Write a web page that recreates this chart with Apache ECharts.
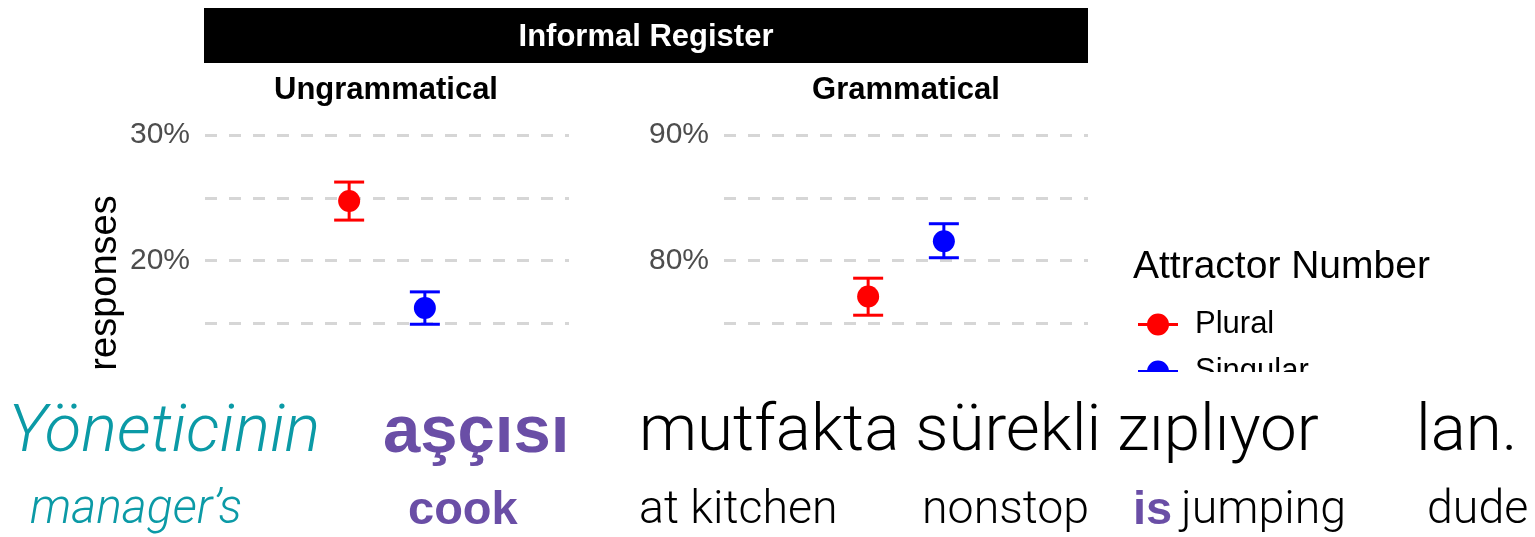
<!DOCTYPE html>
<html>
<head>
<meta charset="utf-8">
<script src="https://cdn.jsdelivr.net/npm/echarts@6/dist/echarts.min.js"></script>
<style>
html, body { margin: 0; padding: 0; background: #fff; }
#chart { width: 1535px; height: 537px; }
</style>
</head>
<body>
<div id="chart"></div>
<script>
// data (percent of responses, mean with lower/upper CI)
var attractors = ['Plural', 'Singular'];
var conditions = ['Ungrammatical', 'Grammatical'];
var ungramMean = [24.74, 16.22];
var ungramLower = [23.22, 14.92];
var ungramUpper = [26.25, 17.50];
var gramMean = [77.13, 81.54];
var gramLower = [75.64, 80.22];
var gramUpper = [78.59, 82.93];
var ungramRange = [10, 30];
var gramRange = [70, 90];

var colors = ['#ff0000', '#0000ff'];
var FONT = "'Liberation Sans', Arial, Helvetica, sans-serif";
var LIGHT = "Roboto, 'Liberation Sans', Arial, sans-serif";
var TEAL = '#0b9aa6';
var PURPLE = '#6a4ea6';

// legend key: a line with a dot on it, like ggplot's pointrange key
var legendIcon = 'path://M0,9.5 H40 V12.5 H0 Z M9,11 A11,11 0 1,1 31,11 A11,11 0 1,1 9,11 Z';

function errorBar(dodge, color) {
    return function (params, api) {
        var cat = api.value(0);
        var band = api.size([1, 0])[0];
        var mid = api.coord([cat, api.value(1)]);
        var lo = api.coord([cat, api.value(2)]);
        var hi = api.coord([cat, api.value(3)]);
        var x = mid[0] + dodge * band * 0.104;
        var ls = { stroke: color, lineWidth: 3 };
        return {
            type: 'group',
            children: [
                { type: 'line', shape: { x1: x, y1: hi[1], x2: x, y2: lo[1] }, style: ls },
                { type: 'line', shape: { x1: x - 15, y1: hi[1], x2: x + 15, y2: hi[1] }, style: ls },
                { type: 'line', shape: { x1: x - 15, y1: lo[1], x2: x + 15, y2: lo[1] }, style: ls },
                { type: 'circle', shape: { cx: x, cy: mid[1], r: 11 }, style: { fill: color } }
            ]
        };
    };
}

function yAxisFor(gridIndex, range) {
    return {
        type: 'value',
        gridIndex: gridIndex,
        min: range[0],
        max: range[1],
        interval: 5,
        axisLine: { show: false },
        axisTick: { show: false },
        axisLabel: {
            margin: 15,
            fontSize: 30,
            fontFamily: FONT,
            color: '#4d4d4d',
            formatter: function (v) { return v % 10 === 0 ? v + '%' : ''; }
        },
        splitLine: {
            show: true,
            lineStyle: { color: '#d6d6d6', width: 3, type: [12, 12] }
        }
    };
}

var series = [];
var panels = [
    { mean: ungramMean, lower: ungramLower, upper: ungramUpper },
    { mean: gramMean, lower: gramLower, upper: gramUpper }
];
panels.forEach(function (p, gi) {
    attractors.forEach(function (name, ai) {
        series.push({
            name: name,
            type: 'custom',
            xAxisIndex: gi,
            yAxisIndex: gi,
            itemStyle: { color: colors[ai] },
            renderItem: errorBar(ai === 0 ? -1 : 1, colors[ai]),
            encode: { x: 0, y: [1, 2, 3] },
            data: [[0, p.mean[ai], p.lower[ai], p.upper[ai]]]
        });
    });
});

function txt(text, x, y, size, color, opts) {
    opts = opts || {};
    return {
        type: 'text',
        x: x,
        y: y,
        z: 110,
        rotation: opts.rotation || 0,
        style: {
            text: text,
            fontSize: size,
            fontFamily: opts.family || FONT,
            fontWeight: opts.weight || 'normal',
            fontStyle: opts.style || 'normal',
            fill: color,
            align: opts.align || 'left',
            verticalAlign: 'middle'
        }
    };
}

var graphics = [
    { type: 'rect', shape: { x: 204, y: 8, width: 884, height: 55 }, style: { fill: '#000' }, z: 100 },
    txt('Informal Register', 646, 37, 31, '#fff', { weight: 'bold', align: 'center' }),
    txt(conditions[0], 386, 90, 31, '#000', { weight: 'bold', align: 'center' }),
    txt(conditions[1], 906, 90, 31, '#000', { weight: 'bold', align: 'center' }),
    txt('responses', 106, 283, 38, '#000', { rotation: Math.PI / 2, align: 'center' }),
    txt('Attractor Number', 1133, 267, 39, '#000'),
    // the slide cuts the figure off here
    { type: 'rect', shape: { x: 0, y: 372, width: 1535, height: 165 }, style: { fill: '#fff' }, z: 105 },
    // Turkish sentence and gloss
    txt('Yöneticinin', 8, 434, 67, TEAL, { family: LIGHT, weight: 300, style: 'italic' }),
    txt('aşçısı', 383, 434, 67, PURPLE, { weight: 'bold' }),
    txt('mutfakta sürekli zıplıyor', 639, 434, 65.5, '#000', { family: LIGHT, weight: 300 }),
    txt('lan.', 1416, 434, 65.5, '#000', { family: LIGHT, weight: 300 }),
    txt('manager’s', 30, 511, 48, TEAL, { family: LIGHT, weight: 300, style: 'italic' }),
    txt('cook', 408, 511, 47, PURPLE, { weight: 'bold' }),
    txt('at kitchen', 639, 511, 46.5, '#000', { family: LIGHT, weight: 300 }),
    txt('nonstop', 922, 511, 46.5, '#000', { family: LIGHT, weight: 300 }),
    txt('is', 1133, 511, 47, PURPLE, { weight: 'bold' }),
    txt('jumping', 1181, 511, 46.5, '#000', { family: LIGHT, weight: 300 }),
    txt('dude', 1427, 511, 46.5, '#000', { family: LIGHT, weight: 300 })
];

var chart = echarts.init(document.getElementById('chart'));
chart.setOption({
    animation: false,
    backgroundColor: '#fff',
    textStyle: { fontFamily: FONT },
    grid: [
        { left: 205, top: 135, width: 364, height: 251 },
        { left: 724, top: 135, width: 364, height: 251 }
    ],
    xAxis: [
        { type: 'category', gridIndex: 0, data: [conditions[0]], show: false },
        { type: 'category', gridIndex: 1, data: [conditions[1]], show: false }
    ],
    yAxis: [yAxisFor(0, ungramRange), yAxisFor(1, gramRange)],
    legend: {
        data: attractors.map(function (n) { return { name: n, icon: legendIcon }; }),
        orient: 'vertical',
        left: 1138,
        top: 309,
        padding: 0,
        itemWidth: 40,
        itemHeight: 22,
        itemGap: 16,
        selectedMode: false,
        textStyle: { fontSize: 31, color: '#000', fontFamily: FONT, padding: [0, 0, 0, 12] }
    },
    graphic: graphics,
    series: series
});
</script>
</body>
</html>
